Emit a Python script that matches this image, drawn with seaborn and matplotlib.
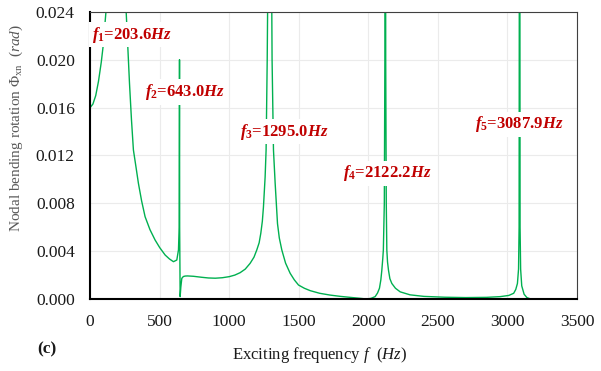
import matplotlib
matplotlib.use("Agg")
import matplotlib.pyplot as plt
import seaborn as sns
import pandas as pd

# Frequency response (Hz, rad)
freq = [0, 20, 40, 60, 80, 93, 105, 115, 150, 203.6, 250, 259, 271, 283, 297,
        311, 330, 347, 370, 395, 430, 467, 500, 539, 570, 599, 623, 635, 640,
        642.5, 643.5, 647, 652, 659, 670, 683, 700, 743, 800, 850, 900, 950,
        1000, 1040, 1078, 1115, 1150, 1178, 1198, 1215, 1227, 1238, 1246, 1258,
        1265, 1273, 1280, 1295, 1303, 1308, 1318, 1330, 1347, 1360, 1378, 1405,
        1438, 1468, 1498, 1540, 1582, 1650, 1725, 1800, 1869, 1940, 1989, 2020,
        2049, 2066, 2080, 2090, 2097, 2104, 2108, 2115, 2119, 2122.2, 2125,
        2129, 2133, 2138, 2145, 2155, 2169, 2195, 2229, 2300, 2400, 2550, 2700,
        2850, 2948, 3010, 3045, 3060, 3072, 3080, 3084, 3087.9, 3091, 3095,
        3103, 3120, 3140, 3163, 3300, 3500]
phi = [0.0160, 0.0163, 0.0170, 0.0182, 0.0198, 0.0211, 0.0228, 0.0242, 0.0350,
       0.0800, 0.0260, 0.0240, 0.0210, 0.0180, 0.0150, 0.01246, 0.0110,
       0.00967, 0.0082, 0.00688, 0.0058, 0.00493, 0.0043, 0.00368, 0.00335,
       0.00312, 0.00326, 0.0041, 0.0060, 0.0200, 0.0060, 0.0002, 0.0010,
       0.00173, 0.00188, 0.00192, 0.00193, 0.00190, 0.00182, 0.00176, 0.00174,
       0.00178, 0.00187, 0.0020, 0.0022, 0.0025, 0.00298, 0.0035, 0.0041,
       0.0047, 0.0055, 0.0065, 0.0077, 0.0102, 0.01246, 0.0200, 0.0300,
       0.0800, 0.0300, 0.0200, 0.01246, 0.0097, 0.0063, 0.0051, 0.0041, 0.0030,
       0.00215, 0.0016, 0.00117, 0.0009, 0.0007, 0.00048, 0.00033, 0.00022,
       0.00014, 0.00006, 0.0, 0.00006, 0.0002, 0.0005, 0.0009, 0.0016, 0.0024,
       0.0034, 0.0041, 0.0080, 0.0200, 0.0600, 0.0200, 0.0080, 0.0041, 0.0031,
       0.0024, 0.0017, 0.0013, 0.0009, 0.0006, 0.00035, 0.00022, 0.00015,
       0.00012, 0.00014, 0.0002, 0.0003, 0.00048, 0.0008, 0.0013, 0.0025,
       0.0060, 0.0600, 0.0060, 0.0025, 0.0011, 0.0004, 0.00012, 0.00002,
       0.00002, 0.00002]

# Natural frequency labels and where they sit
mode_labels = ["1", "2", "3", "4", "5"]
mode_freqs = ["203.6", "643.0", "1295.0", "2122.2", "3087.9"]
label_x = [302, 683, 1395, 2135, 3084]
label_y = [0.0221, 0.0173, 0.0140, 0.0105, 0.0146]

xticks = [0, 500, 1000, 1500, 2000, 2500, 3000, 3500]
yticks = [0.000, 0.004, 0.008, 0.012, 0.016, 0.020, 0.024]

sns.set_style("whitegrid")
plt.rcParams['font.family'] = ['Liberation Serif', 'DejaVu Serif']
plt.rcParams['mathtext.fontset'] = 'custom'
plt.rcParams['mathtext.rm'] = 'Liberation Serif'
plt.rcParams['mathtext.it'] = 'Liberation Serif:italic'
plt.rcParams['mathtext.bf'] = 'Liberation Serif:bold'
plt.rcParams['mathtext.bfit'] = 'Liberation Serif:italic:bold'

df = pd.DataFrame({"freq": freq, "phi": phi})

fig, ax = plt.subplots(figsize=(6.01, 3.71), dpi=100)
fig.subplots_adjust(left=0.150, right=0.960, top=0.968, bottom=0.194)

sns.lineplot(data=df, x="freq", y="phi", sort=False, color="#00b050",
             linewidth=1.0, ax=ax)

for m, fv, tx, ty in zip(mode_labels, mode_freqs, label_x, label_y):
    ax.text(tx, ty, r"$\mathbfit{f}_{\mathbf{" + m + r"}}$=" + fv + r"$\mathbfit{Hz}$",
            color="#c00000", fontsize=12, fontweight="bold",
            ha="center", va="center", zorder=5,
            bbox=dict(facecolor="white", edgecolor="none", pad=2))

ax.set_xlim(0, 3500)
ax.set_ylim(0, 0.024)
ax.set_xticks(xticks)
ax.set_yticks(yticks)
ax.set_yticklabels([f"{v:.3f}" for v in yticks])
ax.tick_params(labelsize=12.5, colors="#1a1a1a", length=0, pad=11)
ax.grid(color="#ebebeb", linewidth=0.8)

for side in ["left", "bottom"]:
    ax.spines[side].set_color("black")
    ax.spines[side].set_linewidth(1.5)
for side in ["top", "right"]:
    ax.spines[side].set_color("#404040")
    ax.spines[side].set_linewidth(0.8)

ax.set_xlabel(r"Exciting frequency $f$  ($Hz$)", fontsize=12, color="#1a1a1a")
ax.xaxis.set_label_coords(0.472, -0.160)
ax.set_ylabel(r"Nodal bending rotation $\Phi_{\rm xn}$  ($rad$)", fontsize=11,
              color="#595959")
ax.yaxis.set_label_coords(-0.134, 0.596)

fig.text(0.078, 0.057, "(c)", fontsize=12.5, fontweight="bold", ha="center",
         va="center", color="#1a1a1a")

fig.savefig("out.png", dpi=100)
